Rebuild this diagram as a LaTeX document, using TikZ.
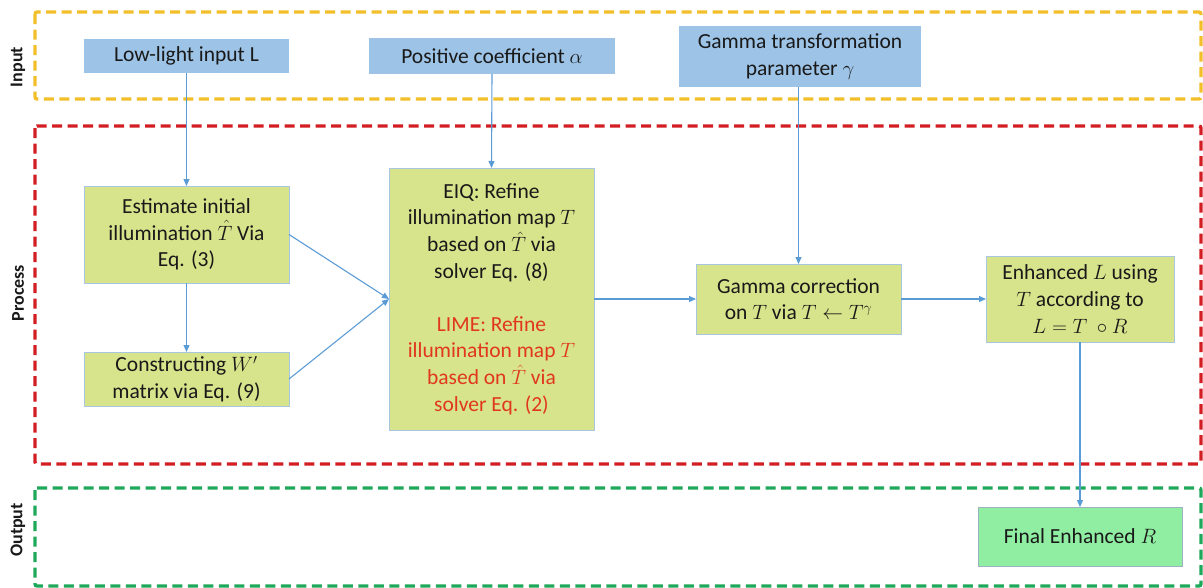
\documentclass[tikz,border=0pt]{standalone}
\usepackage{fontspec}
\setmainfont{Carlito}
\usetikzlibrary{arrows.meta}
\definecolor{inblue}{RGB}{157,195,230}
\definecolor{lime}{RGB}{215,228,139}
\definecolor{fingreen}{RGB}{144,238,162}
\definecolor{linkblue}{RGB}{91,155,213}
\definecolor{boxedge}{RGB}{168,198,223}
\definecolor{frameyellow}{RGB}{242,190,42}
\definecolor{framered}{RGB}{210,30,35}
\definecolor{framegreen}{RGB}{30,168,90}
\definecolor{limered}{RGB}{225,55,30}
\definecolor{txt}{RGB}{25,25,25}
\begin{document}
\begin{tikzpicture}[x=1pt,y=-1pt,
  every node/.style={inner sep=0pt,outer sep=0pt,align=center,text=txt,
    font=\fontsize{21.5}{26.6}\selectfont},
  inbox/.style={fill=inblue,draw=none},
  procbox/.style={fill=lime,draw=boxedge,line width=1pt},
  finbox/.style={fill=fingreen,draw=boxedge!70!gray,line width=0.8pt},
  frame/.style={dashed,line width=3.3pt,dash pattern=on 10pt off 5.5pt,rounded corners=2pt},
  link/.style={draw=linkblue,line width=1.1pt,-{Triangle[length=7pt,width=6pt]}},
  sidelabel/.style={rotate=90,font=\fontsize{18}{20}\selectfont\bfseries}
]
\useasboundingbox (0,0) rectangle (1203,587);
% frames
\draw[frame,frameyellow] (35,12) rectangle (1201,99);
\draw[frame,framered] (35,126) rectangle (1201,464);
\draw[frame,framegreen] (35,488) rectangle (1201,586);
\node[sidelabel] (lin) at (18,67) {Input};
\node[sidelabel] (lpr) at (18,293) {Process};
\node[sidelabel] (lout) at (18,530) {Output};
% input boxes
\node[inbox,minimum width=205pt,minimum height=34pt] (low) at (186.5,56) {Low-light input L};
\node[inbox,minimum width=246pt,minimum height=36pt] (pos) at (492,56) {Positive coefficient $\alpha$};
\node[inbox,minimum width=242pt,minimum height=61pt] (gam) at (800,56.5) {Gamma transformation\\ parameter $\gamma$};
% process boxes
\node[procbox,minimum width=205pt,minimum height=97pt] (est) at (186.5,234.5) {Estimate initial\\ illumination $\hat{T}$ Via\\ Eq. (3)};
\node[procbox,minimum width=205pt,minimum height=54pt] (con) at (186.5,379) {Constructing $W'$\\ matrix via Eq. (9)};
\node[procbox,minimum width=205pt,minimum height=262pt] (eiq) at (491.5,299) {EIQ: Refine\\ illumination map $T$\\ based on $\hat{T}$ via\\ solver Eq. (8)\\ \\
  \color{limered}LIME: Refine\\ \color{limered}illumination map $T$\\ \color{limered}based on $\hat{T}$ via\\ \color{limered}solver Eq. (2)};
\node[procbox,minimum width=205pt,minimum height=70pt] (gc) at (798.5,299) {Gamma correction\\ on $T$ via $T\leftarrow T^{\gamma}$};
\node[procbox,minimum width=188pt,minimum height=86pt] (enh) at (1080,299) {Enhanced $L$ using\\ $T$ according to\\ $L=T\ \circ R$};
% output box
\node[finbox,minimum width=204pt,minimum height=59pt] (fin) at (1080,536.5) {Final Enhanced $R$};
% connectors
\draw[link] (low.south) -- (est.north);
\draw[link] (pos.south) -- (eiq.north);
\draw[link] (gam.south -| gc.north) -- (gc.north);
\draw[link] (est.south) -- (con.north);
\draw[link] (est.east) -- (eiq.west);
\draw[link] (con.east) -- (eiq.west);
\draw[link] (eiq.east) -- (gc.west);
\draw[link] (gc.east) -- (enh.west);
\draw[link] (enh.south) -- (fin.north);
\end{tikzpicture}
\end{document}
